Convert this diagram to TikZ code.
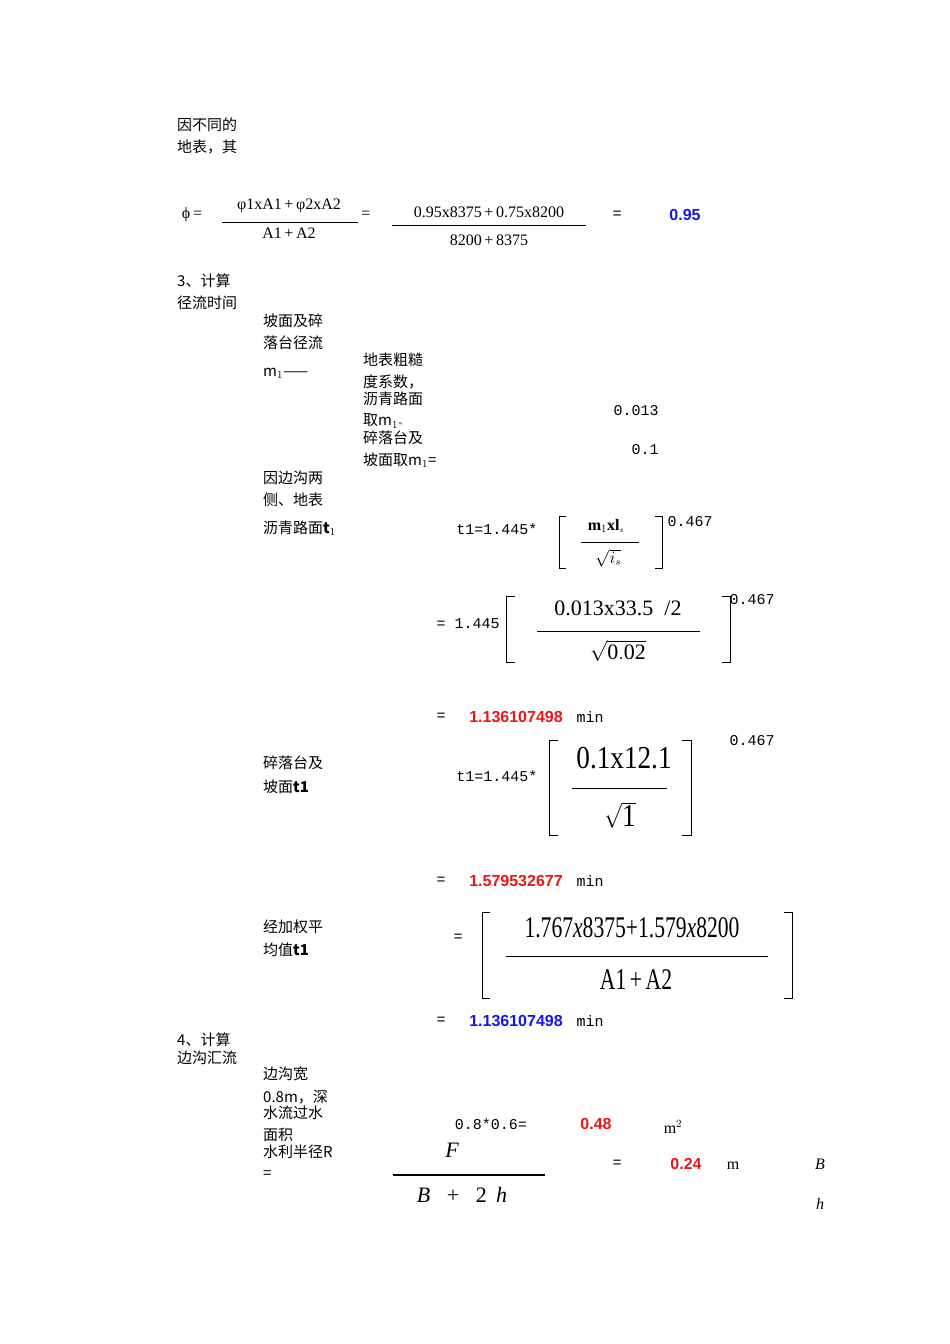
\documentclass[tikz,border=0pt]{standalone}
\usepackage{fontspec}
\setmainfont{Liberation Serif}
\newfontfamily\cjk{Noto Sans CJK SC}
\newfontfamily\arl{Liberation Sans}
\newfontfamily\mono{Liberation Mono}
\newfontfamily\djv{DejaVu Sans}
\definecolor{rd}{RGB}{240,20,20}
\definecolor{bl}{RGB}{20,20,240}
\begin{document}
\begin{tikzpicture}[x=1pt,y=-1pt,
  cn/.style={anchor=west,inner sep=0pt,font=\cjk\fontsize{15}{15}\selectfont},
  mn/.style={inner sep=0pt,font=\mono\fontsize{15}{15}\selectfont},
  rn/.style={inner sep=0pt,font=\arl\bfseries\fontsize{16}{16}\selectfont,text=rd},
  bn/.style={inner sep=0pt,font=\arl\bfseries\fontsize{16}{16}\selectfont,text=bl},
  sf/.style={inner sep=0pt,font=\fontsize{16}{16}\selectfont},
  br/.style={line width=1pt}]
\useasboundingbox (0,0) rectangle (950,1344);
% header
\node[cn] (a1) at (177,125) {因不同的};
\node[cn] (a2) at (177,147) {地表，其};
\node[sf] (phi) at (192,215) {ϕ\,=};
\node[sf] (f1n) at (289,206) {φ1xA1\,+\,φ2xA2};
\draw (222,222) -- (358,222);
\node[sf] (f1d) at (289,233) {A1\,+\,A2};
\node[sf] (e1) at (366,215) {=};
\node[sf] (f2n) at (489,212) {0.95x8375\,+\,0.75x8200};
\draw (392,225) -- (586,225);
\node[sf] (f2d) at (489,240) {8200\,+\,8375};
\node[mn] (e2) at (617,215) {=};
\node[bn] (r1) at (685,215) {0.95};
% section 3
\node[cn] (s3a) at (177,281) {3、计算};
\node[cn] (s3b) at (177,303) {径流时间};
\node[cn] (b1) at (263,321) {坡面及碎};
\node[cn] (b2) at (263,343) {落台径流};
\node[cn] (b3) at (263,373) {m$_1$——};
\node[cn] (c1) at (363,360) {地表粗糙};
\node[cn] (c2) at (363,382) {度系数，};
\node[cn] (c3) at (363,399) {沥青路面};
\node[cn] (c4) at (363,421) {取m$_1${\djv\fontsize{9}{9}\selectfont ₌}};
\node[cn] (c5) at (363,438) {碎落台及};
\node[cn] (c6) at (363,460) {坡面取m$_1$=};
\node[mn] (v1) at (636,411) {0.013};
\node[mn] (v2) at (645,450) {0.1};
\node[cn] (d1) at (263,478) {因边沟两};
\node[cn] (d2) at (263,500) {侧、地表};
\node[cn] (d3) at (263,528) {沥青路面\textbf{t$_1$}};
% t1 formula 1
\node[mn] (t1a) at (497,529) {t1=1.445*};
\draw[br] (566,516) -- (559,516) -- (559,568) -- (566,568);
\draw[br] (655,516) -- (662,516) -- (662,568) -- (655,568);
\node[sf] (g1n) at (606,526) {\textbf{m$_1$xl$_{\scriptscriptstyle s}$}};
\draw (581,542) -- (639,542);
\node[sf] (g1d) at (608,558) {$\sqrt{i_s}$};
\node[mn] (p1) at (690,522) {0.467};
\node[mn] (e3) at (468,624) {= 1.445};
\draw[br] (515,596) -- (506,596) -- (506,662) -- (515,662);
\draw[br] (722,596) -- (730,596) -- (730,662) -- (722,662);
\node[inner sep=0pt,font=\fontsize{22}{22}\selectfont] (g2n) at (618,608) {0.013x33.5\ \ /2};
\draw (537,631) -- (700,631);
\node[inner sep=0pt,font=\fontsize{22}{22}\selectfont] (g2d) at (618,651) {$\sqrt{\mathrm{0.02}}$};
\node[mn] (p2) at (752,600) {0.467};
\node[mn] (e4) at (441,717) {=};
\node[rn] (r2) at (516,717) {1.136107498};
\node[mn] (m2) at (590,717) {min};
% t1 formula 2
\node[cn] (h1) at (263,763) {碎落台及};
\node[cn] (h2) at (263,787) {坡面\textbf{t1}};
\node[mn] (t1b) at (497,776) {t1=1.445*};
\draw[br] (558,740) -- (549,740) -- (549,835) -- (558,835);
\draw[br] (682,740) -- (691,740) -- (691,835) -- (682,835);
\node[inner sep=0pt,font=\fontsize{32}{32}\selectfont] (k1n) at (624,758) {\scalebox{0.85}[1]{0.1x12.1}};
\draw (572,788) -- (667,788);
\node[inner sep=0pt,font=\fontsize{32}{32}\selectfont] (k1d) at (620,815) {\scalebox{0.85}[1]{$\sqrt{\mathrm{1}}$}};
\node[mn] (p3) at (752,741) {0.467};
\node[mn] (e5) at (441,881) {=};
\node[rn] (r3) at (516,881) {1.579532677};
\node[mn] (m3) at (590,881) {min};
% weighted
\node[cn] (w1) at (263,927) {经加权平};
\node[cn] (w2) at (263,950) {均值\textbf{t1}};
\node[mn] (e6) at (458,938) {=};
\draw[br] (490,912) -- (482,912) -- (482,998) -- (490,998);
\draw[br] (784,912) -- (792,912) -- (792,998) -- (784,998);
\node[inner sep=0pt,font=\fontsize{30}{30}\selectfont] (w3n) at (632,928) {\scalebox{0.72}[1]{1.767\textit{x}8375+1.579\textit{x}8200}};
\draw (506,956) -- (768,956);
\node[inner sep=0pt,font=\fontsize{30}{30}\selectfont] (w3d) at (636,980) {\scalebox{0.72}[1]{A1\,+\,A2}};
\node[mn] (e7) at (441,1021) {=};
\node[bn] (r4) at (516,1021) {1.136107498};
\node[mn] (m4) at (590,1021) {min};
% section 4
\node[cn] (s4a) at (177,1040) {4、计算};
\node[cn] (s4b) at (177,1058) {边沟汇流};
\node[cn] (q1) at (263,1074) {边沟宽};
\node[cn] (q2) at (263,1097) {0.8m，深};
\node[cn] (q3) at (263,1113) {水流过水};
\node[cn] (q4) at (263,1135) {面积};
\node[cn] (q5) at (263,1152) {水利半径R};
\node[cn] (q6) at (263,1175) {=};
\node[mn] (a8) at (491,1124) {0.8*0.6=};
\node[rn] (r5) at (596,1124) {0.48};
\node[sf] (u1) at (673,1127) {m$^2$};
\node[inner sep=0pt,font=\fontsize{22}{22}\selectfont\itshape] (F) at (452,1150) {F};
\draw[line width=1.2pt] (393,1175) -- (545,1175);
\node[inner sep=0pt,font=\fontsize{22}{22}\selectfont] (den) at (462,1195) {\textit{B}\ \ \ +\ \ \ 2\ \,\textit{h}};
\node[mn] (e8) at (617,1164) {=};
\node[rn] (r6) at (686,1164) {0.24};
\node[sf] (u2) at (733,1166) {m};
\node[sf,font=\itshape\fontsize{16}{16}\selectfont] (B) at (820,1164) {B};
\node[sf,font=\itshape\fontsize{16}{16}\selectfont] (hh) at (820,1204) {h};
\end{tikzpicture}
\end{document}
